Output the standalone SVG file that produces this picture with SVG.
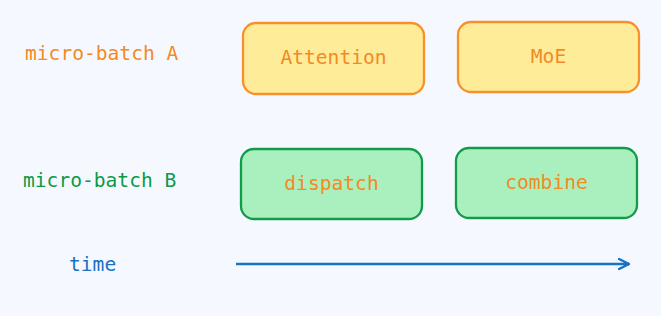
<svg xmlns="http://www.w3.org/2000/svg" width="661" height="316" viewBox="0 0 661 316">
<defs>
<style>
.t{font-family:"DejaVu Sans Mono","Liberation Mono",monospace;font-size:19.6px;dominant-baseline:central}
.o{fill:#f38a24}
.g{fill:#0c9a48}
.b{fill:#1971c2}
.ya{fill:#ffec99;stroke:#f8902c;stroke-width:2.3}
.gr{fill:#aaf0bf;stroke:#109c48;stroke-width:2.3}
</style>
<marker id="ah" viewBox="0 0 12 12" refX="11" refY="6" markerWidth="12" markerHeight="12" markerUnits="userSpaceOnUse" orient="auto">
<path d="M1 1 L11 6 L1 11" fill="none" stroke="#1971c2" stroke-width="2.4" stroke-linecap="round" stroke-linejoin="round"/>
</marker>
</defs>
<rect width="661" height="316" fill="#f5f9ff"/>
<g id="labelA"><text class="t o" x="25" y="53">micro-batch A</text></g>
<g id="labelB"><text class="t g" x="23" y="180">micro-batch B</text></g>
<g id="labelTime"><text class="t b" x="69" y="264">time</text></g>
<g id="attention"><rect class="ya" x="243" y="23" width="181" height="71" rx="13"/><text class="t o" x="333.5" y="57" text-anchor="middle">Attention</text></g>
<g id="moe"><rect class="ya" x="458" y="22" width="181" height="70" rx="13"/><text class="t o" x="548.5" y="56" text-anchor="middle">MoE</text></g>
<g id="dispatch"><rect class="gr" x="241" y="149" width="181" height="70" rx="13"/><text class="t o" x="331.5" y="183" text-anchor="middle">dispatch</text></g>
<g id="combine"><rect class="gr" x="456" y="148" width="181" height="70" rx="13"/><text class="t o" x="546.5" y="182" text-anchor="middle">combine</text></g>
<g id="connectors"><line x1="236" y1="264" x2="629" y2="264" stroke="#1971c2" stroke-width="2.4" marker-end="url(#ah)"/></g>
</svg>
